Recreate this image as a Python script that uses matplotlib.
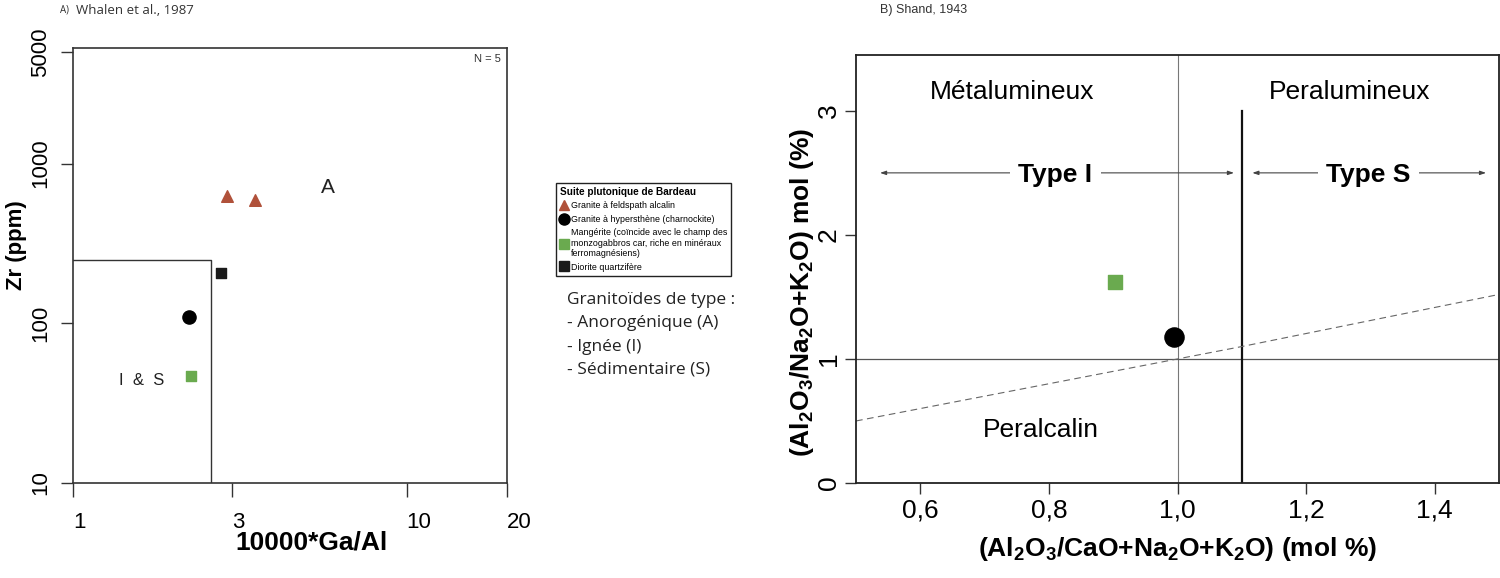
import matplotlib
matplotlib.use("Agg")
import matplotlib.pyplot as plt
from matplotlib import font_manager
from matplotlib.lines import Line2D

# ---- données : Whalen et al. 1987 (Ga/Al vs Zr)
gaal_tri = [2.90, 3.52]
zr_tri = [630, 595]
gaal_circ = [2.23]
zr_circ = [109]
gaal_green = [2.25]
zr_green = [46.5]
gaal_sq = [2.78]
zr_sq = [208]
is_box_x = [1.0, 2.6, 2.6]
is_box_y = [250, 250, 10]

# ---- données : Shand 1943 (A/CNK vs A/NK)
acnk_green = [0.902]
ank_green = [1.62]
acnk_circ = [0.994]
ank_circ = [1.18]
dash_x = [0.5, 0.6, 0.8, 1.0, 1.1, 1.3, 1.5]
dash_y = [0.50, 0.60, 0.80, 1.00, 1.10, 1.31, 1.52]

BROWN = "#b0513a"
GREEN = "#6aaa4f"

names = [f.name for f in font_manager.fontManager.ttflist]
NARROW = "Liberation Sans Narrow" if "Liberation Sans Narrow" in names else "Liberation Sans"
SANS = "Liberation Sans"
MYRIAD = "Open Sans"

plt.rcParams["mathtext.fontset"] = "custom"
plt.rcParams["mathtext.rm"] = NARROW
plt.rcParams["mathtext.bf"] = NARROW + ":bold"

fig = plt.figure(figsize=(15, 5.78), dpi=100)

# ================= A) Whalen
ax = fig.add_axes([0.0487, 0.1644, 0.2893, 0.7526])
ax.set_xscale("log")
ax.set_yscale("log")
ax.set_xlim(1, 20)
ax.set_ylim(10, 5300)
ax.plot(is_box_x, is_box_y, color="#333333", lw=1.0)
ax.scatter(gaal_tri, zr_tri, marker="^", s=70, color=BROWN, zorder=3)
ax.scatter(gaal_sq, zr_sq, marker="s", s=60, color="#1a1a1a", zorder=3)
ax.scatter(gaal_circ, zr_circ, marker="o", s=90, color="black", zorder=3)
ax.scatter(gaal_green, zr_green, marker="s", s=55, color=GREEN, zorder=3)
ax.text(5.8, 708, "A", fontsize=15, family=SANS, ha="center", va="center", color="#222222")
ax.text(1.61, 44, "I  &  S", fontsize=12, family=SANS, ha="center", va="center", color="#222222")
ax.text(0.985, 0.985, "N = 5", transform=ax.transAxes, fontsize=8, family=SANS,
        ha="right", va="top", color="#333333")
ax.set_xticks([1, 3, 10, 20])
ax.set_xticklabels(["1", "3", "10", "20"], fontsize=16, family=SANS, ha="left")
ax.set_yticks([10, 100, 1000, 5000])
ax.set_yticklabels(["10", "100", "1000", "5000"], fontsize=16, family=SANS,
                   rotation=90, va="center")
ax.minorticks_off()
ax.tick_params(axis="x", direction="out", length=10, width=1, color="#333333", pad=11)
ax.tick_params(axis="y", direction="out", length=9, width=1, color="#333333", pad=7)
for s in ax.spines.values():
    s.set_color("#333333")
    s.set_linewidth(1.2)
ax.set_xlabel("10000*Ga/Al", fontsize=19, fontweight="bold", family=SANS)
ax.xaxis.set_label_coords(0.55, -0.11)
ax.set_ylabel("Zr (ppm)", fontsize=16, fontweight="bold", family=SANS)
ax.yaxis.set_label_coords(-0.105, 0.547)
fig.text(0.040, 0.982, "A)", fontsize=7, family=MYRIAD, va="center", color="#333333")
fig.text(0.0505, 0.982, "Whalen et al., 1987", fontsize=9.5, family=MYRIAD, va="center",
         color="#333333")

# légende
handles = [
    Line2D([], [], marker="^", ls="", color=BROWN, markersize=6.5),
    Line2D([], [], marker="o", ls="", color="black", markersize=8),
    Line2D([], [], marker="s", ls="", color=GREEN, markersize=6.5),
    Line2D([], [], marker="s", ls="", color="#1a1a1a", markersize=6.5),
]
labels = [
    "Granite à feldspath alcalin",
    "Granite à hypersthène (charnockite)",
    "Mangérite (coïncide avec le champ des\nmonzogabbros car, riche en minéraux\nferromagnésiens)",
    "Diorite quartzifère",
]
leg = fig.legend(handles, labels, loc="upper left", bbox_to_anchor=(0.3707, 0.6834),
                 borderaxespad=0, title="Suite plutonique de Bardeau", fancybox=False,
                 edgecolor="#222222", framealpha=1, handlelength=0.9, handletextpad=0.3,
                 borderpad=0.45, labelspacing=0.5, prop={"family": SANS, "size": 6.4},
                 title_fontproperties={"family": SANS, "size": 7.2, "weight": "bold"})
leg._legend_box.align = "left"
leg.get_frame().set_linewidth(1.0)

fig.text(0.378, 0.481, "Granitoïdes de type :", fontsize=12.5, family=MYRIAD,
         va="center", color="#222222")
for i, t in enumerate(["- Anorogénique (A)", "- Ignée (I)", "- Sédimentaire (S)"]):
    fig.text(0.378, 0.441 - i * 0.0405, t, fontsize=12.5, family=MYRIAD, va="center",
             color="#222222")

# ================= B) Shand
bx = fig.add_axes([0.5707, 0.1644, 0.4287, 0.7404])
bx.set_xlim(0.5, 1.5)
bx.set_ylim(0, 3.45)
bx.axvline(1.0, color="#777777", lw=0.8, zorder=1)
bx.axhline(1.0, color="#555555", lw=0.9, zorder=1)
bx.plot([1.1, 1.1], [0, 3], color="#111111", lw=1.6, zorder=2)
bx.plot(dash_x, dash_y, color="#666666", lw=0.8, ls=(0, (6, 4)), zorder=2)
bx.scatter(acnk_green, ank_green, marker="s", s=110, color=GREEN, zorder=3)
bx.scatter(acnk_circ, ank_circ, marker="o", s=190, color="black", zorder=3)

bx.text(0.742, 3.15, "Métalumineux", fontsize=19, family=NARROW, ha="center", va="center")
bx.text(1.267, 3.15, "Peralumineux", fontsize=19, family=NARROW, ha="center", va="center")
bx.text(0.787, 0.43, "Peralcalin", fontsize=19, family=NARROW, ha="center", va="center")

arrow_kw = dict(arrowstyle="<|-|>,head_length=0.35,head_width=0.12", color="#444444", lw=0.8)
bx.annotate("", xy=(0.533, 2.5), xytext=(1.092, 2.5), arrowprops=arrow_kw, zorder=2)
bx.annotate("", xy=(1.112, 2.5), xytext=(1.484, 2.5), arrowprops=arrow_kw, zorder=2)
bx.text(0.81, 2.48, "Type I", fontsize=19, fontweight="bold", family=NARROW, ha="center",
        va="center", zorder=4,
        bbox=dict(facecolor="white", edgecolor="none", pad=6))
bx.text(1.297, 2.48, "Type S", fontsize=19, fontweight="bold", family=NARROW, ha="center",
        va="center", zorder=4,
        bbox=dict(facecolor="white", edgecolor="none", pad=6))

bx.set_xticks([0.6, 0.8, 1.0, 1.2, 1.4])
bx.set_xticklabels(["0,6", "0,8", "1,0", "1,2", "1,4"], fontsize=19, family=NARROW)
bx.set_yticks([0, 1, 2, 3])
bx.set_yticklabels(["0", "1", "2", "3"], fontsize=19, family=NARROW, rotation=90, va="center")
bx.tick_params(axis="x", direction="out", length=8, width=1, color="#333333", pad=3)
bx.tick_params(axis="y", direction="out", length=8, width=1, color="#333333", pad=3)
for s in bx.spines.values():
    s.set_color("#222222")
    s.set_linewidth(1.3)
bx.set_xlabel(r"(Al$_\mathbf{2}$O$_\mathbf{3}$/CaO+Na$_\mathbf{2}$O+K$_\mathbf{2}$O) (mol %)",
              fontsize=19, fontweight="bold", family=NARROW)
bx.xaxis.set_label_coords(0.5, -0.122)
bx.set_ylabel(r"(Al$_\mathbf{2}$O$_\mathbf{3}$/Na$_\mathbf{2}$O+K$_\mathbf{2}$O) mol (%)",
              fontsize=19, fontweight="bold", family=NARROW)
bx.yaxis.set_label_coords(-0.062, 0.446)
fig.text(0.587, 0.982, "B) Shand, 1943", fontsize=9, family=NARROW, va="center",
         color="#333333")

fig.savefig("out.png", dpi=100)
